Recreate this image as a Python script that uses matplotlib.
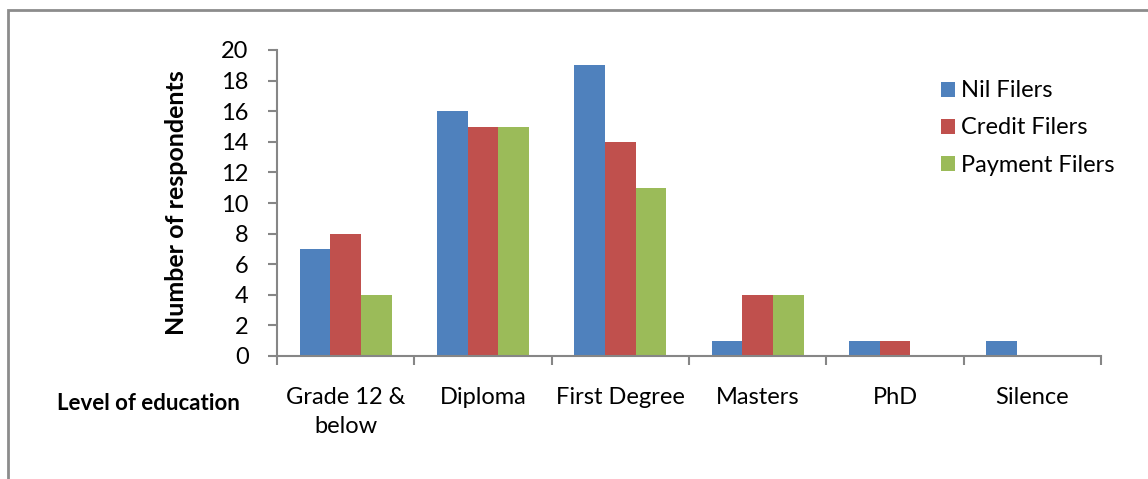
import matplotlib.pyplot as plt
import numpy as np
from matplotlib.patches import Rectangle

categories = ["Grade 12 &\nbelow", "Diploma", "First Degree", "Masters", "PhD", "Silence"]
nil_filers = [7, 16, 19, 1, 1, 1]
credit_filers = [8, 15, 14, 4, 1, 0]
payment_filers = [4, 15, 11, 4, 0, 0]

series = [("Nil Filers", nil_filers, "#4F81BD"),
          ("Credit Filers", credit_filers, "#C0504D"),
          ("Payment Filers", payment_filers, "#9BBB59")]

plt.rcParams["font.family"] = ["Lato", "DejaVu Sans"]

W, H = 1148, 479
fig = plt.figure(figsize=(W / 100, H / 100), dpi=100)
ax = fig.add_axes([277 / W, 1 - 356 / H, (1101 - 277) / W, (356 - 50) / H])

x = np.arange(len(categories))
bw = 0.223
for i, (name, vals, col) in enumerate(series):
    ax.bar(x + (i - 1) * bw, vals, width=bw, color=col, label=name, linewidth=0)

ax.set_xlim(-0.5, len(categories) - 0.5)
ax.set_ylim(0, 20)
ax.set_yticks(range(0, 21, 2))
ax.set_xticks(np.arange(-0.5, len(categories), 1.0))
ax.set_xticklabels([])
ax.set_xticks(x, minor=True)
ax.set_xticklabels(categories, minor=True, fontsize=17, linespacing=1.5, va="top")
ax.tick_params(axis="x", which="minor", length=0, pad=22)
ax.tick_params(axis="x", which="major", length=6.5, width=1.5, color="#868686", direction="out")
ax.tick_params(axis="y", length=6.5, width=1.5, color="#868686", labelsize=17, pad=14)

for s in ["top", "right"]:
    ax.spines[s].set_visible(False)
for s in ["left", "bottom"]:
    ax.spines[s].set_color("#868686")
    ax.spines[s].set_linewidth(1.5)

ax.set_ylabel("Number of respondents", fontsize=18, fontweight="bold", labelpad=24)
fig.text(57 / W, 1 - 404 / H, "Level of education", fontsize=16, fontweight="bold",
         ha="left", va="center")

ax.legend(loc="upper left", bbox_to_anchor=(0.78, 0.97), frameon=False, fontsize=17,
          handlelength=0.6, handleheight=0.6, handletextpad=0.25, labelspacing=0.68)

fig.add_artist(Rectangle((8 / W, -0.5), 1.5, 1 - 10 / H + 0.5, transform=fig.transFigure,
                         fill=False, edgecolor="#8c8c8c", linewidth=2, clip_on=False))

fig.savefig("out.png", dpi=100)
